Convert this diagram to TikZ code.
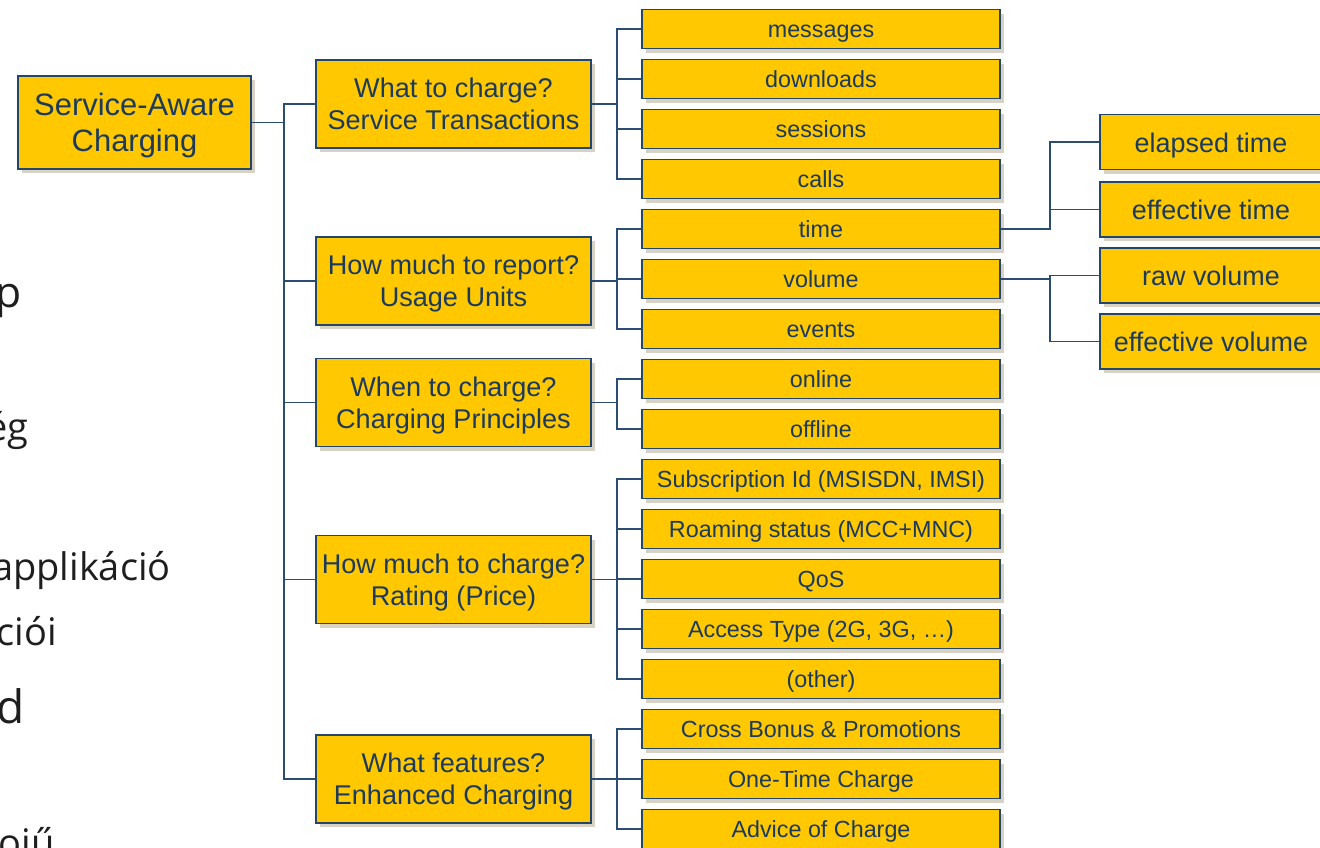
\documentclass[tikz,border=0pt]{standalone}
\usepackage{fontspec}
\setmainfont{Liberation Sans}
\newfontfamily\slidefont{Open Sans}
\usetikzlibrary{shadows}
\definecolor{boxfill}{HTML}{FFC800}
\definecolor{boxline}{HTML}{24466B}
\definecolor{boxtext}{HTML}{1B3A5C}
\definecolor{linkc}{HTML}{2B4D74}
\definecolor{shadowc}{HTML}{D8D2C4}
\definecolor{slideink}{HTML}{1E1E1E}
\tikzset{
  box/.style={draw=boxline, line width=1.1pt, fill=boxfill, text=boxtext,
    inner sep=0pt, align=center, text depth=0pt,
    copy shadow={shadow xshift=3pt, shadow yshift=-3pt, fill=shadowc, draw=none}},
  rootbox/.style={box, minimum width=174.75pt, minimum height=69.75pt,
    font=\fontsize{23.2}{27}\selectfont},
  qbox/.style={box, minimum width=206.25pt, minimum height=66pt,
    font=\fontsize{20.3}{24}\selectfont},
  leafbox/.style={box, minimum width=268.5pt, minimum height=29.25pt,
    text height=13.3pt, font=\fontsize{17.5}{20}\selectfont},
  subbox/.style={box, minimum width=166.5pt, minimum height=41.25pt,
    text height=15pt, font=\fontsize{20.2}{24}\selectfont},
  link/.style={draw=linkc, line width=1pt},
  slidetext/.style={text=slideink, inner sep=0pt, anchor=base east}
}
\begin{document}
\begin{tikzpicture}[x=0.75pt, y=-0.75pt]
  \useasboundingbox (0,0) rectangle (1320,847);
  % cut-off slide text on the left
  \node[slidetext, font=\slidefont\fontsize{32}{32}\selectfont] (sp) at (22,307) {p};
  \node[slidetext, font=\slidefont\fontsize{28.5}{28.5}\selectfont] (seg) at (29,440) {ég};
  \node[slidetext, font=\slidefont\fontsize{28.5}{28.5}\selectfont] (sapp) at (171,580) {applikáció};
  \node[slidetext, font=\slidefont\fontsize{28.5}{28.5}\selectfont] (scio) at (57,645) {ciói};
  \node[slidetext, font=\slidefont\fontsize{34.5}{34.5}\selectfont] (sd) at (25,723) {d};
  \node[slidetext, font=\slidefont\fontsize{28.5}{28.5}\selectfont] (soiu) at (55,856) {oiű};

  \node[rootbox] (root) at (134.5,122.5) {Service-Aware\\Charging};

  \node[qbox] (q1) at (453.5,104) {What to charge?\\Service Transactions};
  \node[qbox] (q2) at (453.5,281) {How much to report?\\Usage Units};
  \node[qbox] (q3) at (453.5,402.5) {When to charge?\\Charging Principles};
  \node[qbox] (q4) at (453.5,579.5) {How much to charge?\\Rating (Price)};
  \node[qbox] (q5) at (453.5,779) {What features?\\Enhanced Charging};

  \foreach \name/\txt [count=\i from 0] in {messages/messages, downloads/downloads,
      sessions/sessions, calls/calls, time/time, volume/volume, events/events,
      online/online, offline/offline, subid/{Subscription Id (MSISDN, IMSI)},
      roaming/{Roaming status (MCC+MNC)}, qos/QoS, access/{Access Type (2G, 3G, …)},
      other/(other), bonus/{Cross Bonus \& Promotions}, onetime/One-Time Charge,
      advice/Advice of Charge}
    \node[leafbox] (\name) at (821,{29+50*\i}) {\txt};

  \node[subbox] (elapsed) at (1211,142) {elapsed time};
  \node[subbox] (efftime) at (1211,209.5) {effective time};
  \node[subbox] (rawvol) at (1211,275.5) {raw volume};
  \node[subbox] (effvol) at (1211,341.5) {effective volume};

  \coordinate (trunk) at (284,0);
  \coordinate (fork) at (617,0);
  \coordinate (fork2) at (1050,0);

  \draw[link] (root.east) -- (root.east -| trunk);
  \foreach \q in {q1,q2,q3,q4,q5}
    \draw[link] (root.east -| trunk) |- (\q.west);

  \foreach \q/\leaf in {q1/messages, q1/downloads, q1/sessions, q1/calls,
      q2/time, q2/volume, q2/events, q3/online, q3/offline,
      q4/subid, q4/roaming, q4/qos, q4/access, q4/other,
      q5/bonus, q5/onetime, q5/advice}
    \draw[link] (\q.east) -- (\q.east -| fork) |- (\leaf.west);

  \draw[link] (time.east) -- (time.east -| fork2) |- (elapsed.west);
  \draw[link] (time.east -| fork2) |- (efftime.west);
  \draw[link] (volume.east) -- (volume.east -| fork2) |- (rawvol.west);
  \draw[link] (volume.east -| fork2) |- (effvol.west);
\end{tikzpicture}
\end{document}
